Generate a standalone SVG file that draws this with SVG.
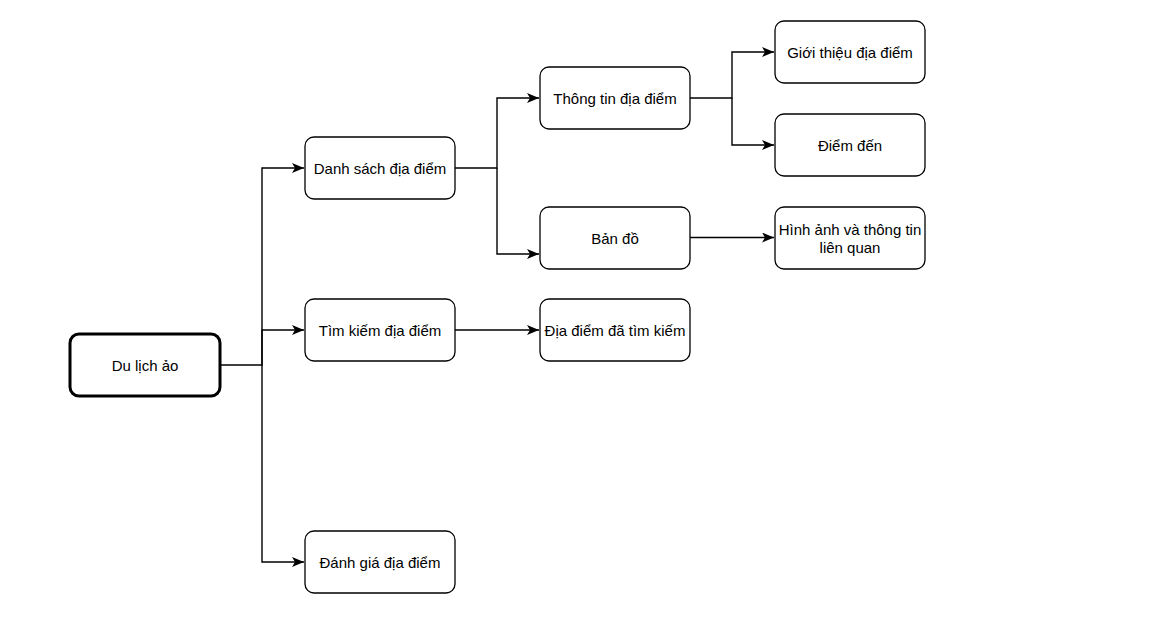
<svg xmlns="http://www.w3.org/2000/svg" width="1159" height="640" viewBox="0 0 1159 640">
  <defs>
    <marker id="arrow" viewBox="0 0 12 10" refX="12" refY="5" markerWidth="12" markerHeight="10" markerUnits="userSpaceOnUse" orient="auto">
      <path d="M0,0 L12,5 L0,10 L3,5 Z" fill="#000"/>
    </marker>
    <style>
      .box { fill: #fff; stroke: #000; stroke-width: 1.3; }
      .root { fill: #fff; stroke: #000; stroke-width: 3; }
      .label { font-family: "Liberation Sans", Arial, sans-serif; font-size: 15px; fill: #000; text-anchor: middle; dominant-baseline: central; }
      .edge { fill: none; stroke: #000; stroke-width: 1.4; }
    </style>
  </defs>
  <rect width="1159" height="640" fill="#fff"/>

  <g id="connectors">
    <!-- root trunk -->
    <path class="edge" d="M220,365 H262 V168 H304" marker-end="url(#arrow)"/>
    <path class="edge" d="M262,365 V330 H304" marker-end="url(#arrow)"/>
    <path class="edge" d="M262,365 V562 H304" marker-end="url(#arrow)"/>
    <!-- Danh sách địa điểm -->
    <path class="edge" d="M455,168 H497 V98 H539" marker-end="url(#arrow)"/>
    <path class="edge" d="M497,168 V254 H539" marker-end="url(#arrow)"/>
    <!-- Tìm kiếm địa điểm -->
    <path class="edge" d="M455,330 H539" marker-end="url(#arrow)"/>
    <!-- Thông tin địa điểm -->
    <path class="edge" d="M690,98 H732 V52 H774" marker-end="url(#arrow)"/>
    <path class="edge" d="M732,98 V145 H774" marker-end="url(#arrow)"/>
    <!-- Bản đồ -->
    <path class="edge" d="M690,237.5 H774" marker-end="url(#arrow)"/>
  </g>

  <g id="node-du-lich-ao">
    <rect class="root" x="70" y="334" width="150" height="62" rx="9"/>
    <text class="label" x="145" y="365">Du lịch ảo</text>
  </g>
  <g id="node-danh-sach">
    <rect class="box" x="305" y="137" width="150" height="62" rx="9"/>
    <text class="label" x="380" y="168">Danh sách địa điểm</text>
  </g>
  <g id="node-tim-kiem">
    <rect class="box" x="305" y="299" width="150" height="62" rx="9"/>
    <text class="label" x="380" y="330">Tìm kiếm địa điểm</text>
  </g>
  <g id="node-danh-gia">
    <rect class="box" x="305" y="531" width="150" height="62" rx="9"/>
    <text class="label" x="380" y="562">Đánh giá địa điểm</text>
  </g>
  <g id="node-thong-tin">
    <rect class="box" x="540" y="67" width="150" height="62" rx="9"/>
    <text class="label" x="615" y="98">Thông tin địa điểm</text>
  </g>
  <g id="node-ban-do">
    <rect class="box" x="540" y="207" width="150" height="62" rx="9"/>
    <text class="label" x="615" y="238">Bản đồ</text>
  </g>
  <g id="node-da-tim-kiem">
    <rect class="box" x="540" y="299" width="150" height="62" rx="9"/>
    <text class="label" x="615" y="330">Địa điểm đã tìm kiếm</text>
  </g>
  <g id="node-gioi-thieu">
    <rect class="box" x="775" y="21" width="150" height="62" rx="9"/>
    <text class="label" x="850" y="52">Giới thiệu địa điểm</text>
  </g>
  <g id="node-diem-den">
    <rect class="box" x="775" y="114" width="150" height="62" rx="9"/>
    <text class="label" x="850" y="145">Điểm đến</text>
  </g>
  <g id="node-hinh-anh">
    <rect class="box" x="775" y="207" width="150" height="62" rx="9"/>
    <text class="label" x="850" y="229">Hình ảnh và thông tin</text>
    <text class="label" x="850" y="247">liên quan</text>
  </g>
</svg>
